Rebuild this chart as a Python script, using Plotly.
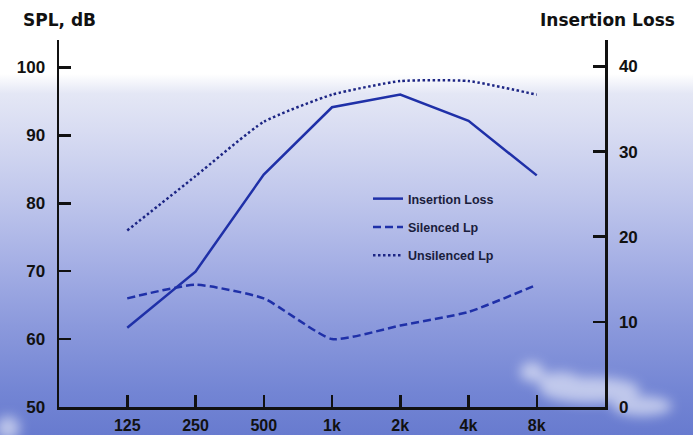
import base64
import plotly.graph_objects as go

# ---- data ----
freqs = ["125", "250", "500", "1k", "2k", "4k", "8k"]
insertion_loss = [9.3, 15.9, 27.3, 35.2, 36.7, 33.6, 27.2]   # right axis
silenced_lp = [66, 68, 66, 60, 62, 64, 68]                    # left axis, dB
unsilenced_lp = [76, 84, 92, 96, 98, 98, 96]                  # left axis, dB
spl_ticks = [50, 60, 70, 80, 90, 100]
il_ticks = [0, 10, 20, 30, 40]

W, H = 693, 435
ML, MR, MT, MB = 59, 88, 40, 28
PW, PH = W - ML - MR, H - MT - MB

svg = f"""<svg xmlns='http://www.w3.org/2000/svg' width='{W}' height='{H}' viewBox='0 0 {W} {H}' preserveAspectRatio='none'>
<defs>
<linearGradient id='g' x1='0' y1='0' x2='0' y2='1'>
<stop offset='0' stop-color='#ffffff'/>
<stop offset='0.17' stop-color='#ffffff'/>
<stop offset='0.215' stop-color='#e4e7f5'/>
<stop offset='0.30' stop-color='#d8dcf2'/>
<stop offset='0.45' stop-color='#c0c7ec'/>
<stop offset='0.60' stop-color='#a6b0e5'/>
<stop offset='0.75' stop-color='#8b99dc'/>
<stop offset='0.90' stop-color='#7385d4'/>
<stop offset='1' stop-color='#687bcf'/>
</linearGradient>
<filter id='b' x='-50%' y='-50%' width='200%' height='200%'><feGaussianBlur stdDeviation='6'/></filter>
</defs>
<rect width='{W}' height='{H}' fill='url(#g)'/>
<g filter='url(#b)' fill='#ffffff' opacity='0.55'>
<ellipse cx='590' cy='390' rx='50' ry='13'/>
<ellipse cx='642' cy='406' rx='30' ry='10'/>
<ellipse cx='532' cy='372' rx='12' ry='10'/>
<ellipse cx='560' cy='382' rx='22' ry='10'/>
<ellipse cx='8' cy='428' rx='12' ry='12'/>
</g>
</svg>"""
bg_src = "data:image/svg+xml;base64," + base64.b64encode(svg.encode()).decode()

line_col = "#1f30a8"
dot_col = "#1c2584"

fig = go.Figure()
fig.add_trace(go.Scatter(
    x=freqs, y=insertion_loss, yaxis="y2", mode="lines", name="Insertion Loss",
    legendgroup="a", line=dict(color=line_col, width=2.5), hoverinfo="skip"))
fig.add_trace(go.Scatter(
    x=freqs, y=silenced_lp, mode="lines", name="Silenced Lp", legendgroup="b",
    line=dict(color=line_col, width=2.5, dash="8px,4px", shape="spline", smoothing=0.5),
    hoverinfo="skip"))
fig.add_trace(go.Scatter(
    x=freqs, y=unsilenced_lp, mode="lines", name="Unsilenced Lp", legendgroup="c",
    line=dict(color=dot_col, width=2.5, dash="2.5px,2.5px", shape="spline", smoothing=0.5),
    hoverinfo="skip"))

tick_font = dict(family="Liberation Sans", size=17, color="#111111", weight="bold")
xtick_font = dict(family="Liberation Sans", size=16, color="#111111", weight="bold")
title_font = dict(family="DejaVu Sans", size=17, color="#111111", weight="bold")

fig.update_layout(
    width=W, height=H,
    margin=dict(l=ML, r=MR, t=MT, b=MB, autoexpand=False),
    paper_bgcolor="#ffffff",
    plot_bgcolor="rgba(0,0,0,0)",
    showlegend=True,
    legend=dict(
        x=(368 - ML) / PW, y=(H - MB - 184) / PH, xanchor="left", yanchor="top",
        bgcolor="rgba(0,0,0,0)", itemwidth=30, tracegroupgap=9,
        font=dict(family="Liberation Sans", size=12.5, color="#1a1d3c", weight="bold"),
    ),
    xaxis=dict(
        type="category", range=[-1, 7], showline=True, linecolor="#111111", linewidth=2.5,
        ticks="inside", ticklen=12, tickwidth=2.5, tickcolor="#111111",
        showgrid=False, zeroline=False, tickfont=xtick_font, ticklabelstandoff=2,
        automargin=False,
    ),
    yaxis=dict(
        range=[50, 104.05], tickvals=spl_ticks, showline=True, linecolor="#111111",
        linewidth=2.5, ticks="inside", ticklen=12, tickwidth=2.5, tickcolor="#111111",
        showgrid=False, zeroline=False, tickfont=tick_font, ticklabelstandoff=8,
        automargin=False,
    ),
    yaxis2=dict(
        range=[0, 43.1], tickvals=il_ticks, overlaying="y", side="right", showline=True,
        linecolor="#111111", linewidth=2.5, ticks="inside", ticklen=12, tickwidth=2.5,
        tickcolor="#111111", showgrid=False, zeroline=False, tickfont=tick_font,
        ticklabelstandoff=8, automargin=False,
    ),
    images=[dict(
        source=bg_src, xref="paper", yref="paper",
        x=-ML / PW, y=1 + MT / PH, sizex=W / PW, sizey=H / PH,
        xanchor="left", yanchor="top", sizing="stretch", layer="below",
    )],
    annotations=[
        dict(text="SPL, dB", xref="paper", yref="paper", x=(21 - ML) / PW, y=1,
             xanchor="left", yanchor="middle", yshift=MT - 20, showarrow=False,
             font=title_font),
        dict(text="Insertion Loss", xref="paper", yref="paper", x=(538 - ML) / PW, y=1,
             xanchor="left", yanchor="middle", yshift=MT - 20, showarrow=False,
             font=title_font),
    ],
)

fig.write_html(
    "out.html",
    config={"displayModeBar": False, "staticPlot": True},
    post_script="document.body.style.margin='0';document.body.style.padding='0';"
                "document.body.style.overflow='hidden';",
)
